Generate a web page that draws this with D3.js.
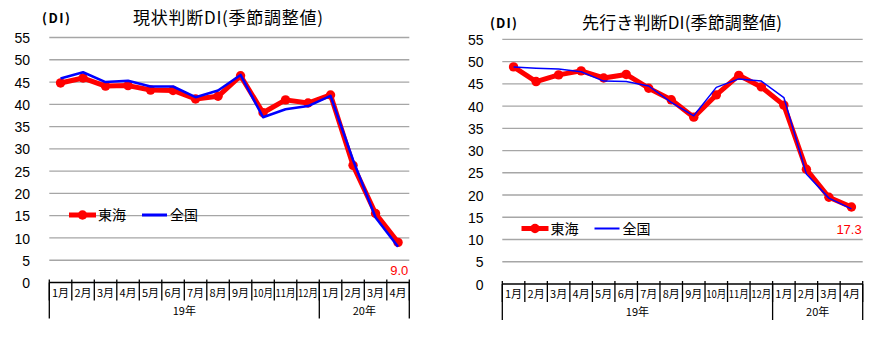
<!DOCTYPE html>
<html><head><meta charset="utf-8">
<script src="https://cdn.jsdelivr.net/npm/d3@7"></script>
<style>body{margin:0;background:#fff}svg{display:block}</style>
</head><body>
<svg id="c" width="878" height="338"></svg>
<script>
const months = ["1月","2月","3月","4月","5月","6月","7月","8月","9月","10月","11月","12月","1月","2月","3月","4月"];
const yearLabels = ["19年","20年"];
const yearSpans = [12, 4];
const yTicks = [0,5,10,15,20,25,30,35,40,45,50,55];
const seriesNames = ["東海","全国"];
const currentTokai    = [44.8,45.9,44.1,44.2,43.2,43.1,41.2,41.8,46.4,38.1,41.0,40.3,42.1,26.3,15.5,9.0];
const currentNational = [45.8,47.2,45.0,45.3,44.0,44.0,41.6,43.1,46.6,37.1,38.9,39.6,41.9,27.5,14.6,8.0];
const futureTokai     = [48.8,45.5,47.0,47.9,46.3,47.1,44.0,41.4,37.5,42.5,46.9,44.3,40.2,25.8,19.5,17.3];
const futureNational  = [48.8,48.5,48.3,47.7,45.6,45.5,44.5,40.8,37.8,44.2,46.1,45.6,41.9,24.7,19.3,16.9];
const titles = ["現状判断DI(季節調整値)","先行き判断DI(季節調整値)"];

const svg = d3.select("#c");
const JP = "'Noto Sans CJK JP', sans-serif";
const NUM = "'Liberation Sans', Arial, sans-serif";

function drawChart(o){
  const g = svg.append("g");
  const idx = d3.range(months.length);
  const x = d3.scaleBand().domain(idx).range([o.x0, o.x1]);
  const y = d3.scaleLinear().domain([0,55]).range([o.yb, o.yt]);
  const cx = i => x(i) + x.bandwidth()/2;

  g.selectAll(".grid").data(yTicks.filter(t=>t>0)).join("line")
    .attr("x1", o.x0).attr("x2", o.x1)
    .attr("y1", d=>y(d)).attr("y2", d=>y(d))
    .attr("stroke","#a6a6a6").attr("stroke-width",1.3);
  const yAxis = d3.axisLeft(y).tickValues(yTicks).tickSize(0).tickPadding(0);
  const ya = g.append("g").attr("transform",`translate(${o.ylx},0)`).call(yAxis);
  ya.select(".domain").remove();
  ya.selectAll("text").attr("font-family",NUM).attr("font-size",14).attr("fill","#000").attr("dy","0.36em");

  g.append("line").attr("x1",o.x0).attr("x2",o.x1).attr("y1",o.yb).attr("y2",o.yb)
    .attr("stroke","#000").attr("stroke-width",1.5);
  const bounds = d3.range(months.length+1).map(i => i<months.length ? x(i) : o.x1);
  g.selectAll(".sep").data(bounds).join("line")
    .attr("x1",d=>d).attr("x2",d=>d).attr("y1",o.yb-3).attr("y2",o.yb+18)
    .attr("stroke","#000").attr("stroke-width",1.3);
  let acc = 0; const ybounds=[o.x0];
  yearSpans.forEach(s=>{acc+=s; ybounds.push(acc<months.length? x(acc): o.x1);});
  g.selectAll(".ysep").data(ybounds).join("line")
    .attr("x1",d=>d).attr("x2",d=>d).attr("y1",o.yb).attr("y2",o.yb+36)
    .attr("stroke","#000").attr("stroke-width",1.3);
  g.selectAll(".ml").data(months).join("text")
    .attr("x",(d,i)=>cx(i)).attr("y",o.yb+14)
    .attr("text-anchor","middle").attr("font-family",JP).attr("font-size",11).attr("fill","#000")
    .each(function(d){ if(d.length>2){ d3.select(this).attr("textLength",20).attr("lengthAdjust","spacingAndGlyphs"); } })
    .text(d=>d);
  g.selectAll(".yl").data(yearLabels).join("text")
    .attr("x",(d,i)=>(ybounds[i]+ybounds[i+1])/2).attr("y",o.yb+32)
    .attr("text-anchor","middle").attr("font-family",JP).attr("font-size",11).attr("fill","#000")
    .text(d=>d);

  const line = d3.line().x((d,i)=>cx(i)).y(d=>y(d));
  g.append("path").datum(o.red).attr("d",line).attr("fill","none")
    .attr("stroke","#ff0000").attr("stroke-width",5).attr("stroke-linejoin","round");
  g.selectAll(".pt").data(o.red).join("circle")
    .attr("cx",(d,i)=>cx(i)).attr("cy",d=>y(d)).attr("r",4.7).attr("fill","#ff0000");
  g.append("path").datum(o.blue).attr("d",line).attr("fill","none")
    .attr("stroke","#0000ff").attr("stroke-width",o.blueW).attr("stroke-linejoin","round");

  const last = o.red[o.red.length-1];
  g.append("text").attr("x",o.x1-1).attr("y",o.lastLabelY)
    .attr("text-anchor","end").attr("font-family",NUM).attr("font-size",13).attr("fill","#ff0000")
    .text(d3.format(".1f")(last));

  g.append("text").attr("x",o.titleX).attr("y",o.titleY)
    .attr("textLength",o.titleW).attr("lengthAdjust","spacing")
    .attr("font-family",JP).attr("font-size",17).attr("fill","#000").text(o.title);
  g.append("text").attr("x",o.unitX).attr("y",o.titleY-1)
    .attr("textLength",o.unitW).attr("lengthAdjust","spacing")
    .attr("font-family",JP).attr("font-size",13).attr("font-weight","bold").attr("fill","#000").text("(DI)");

  const lg = g.append("g").attr("transform",`translate(${o.legX},${o.legY})`);
  lg.append("line").attr("x1",0).attr("x2",27).attr("y1",0).attr("y2",0).attr("stroke","#ff0000").attr("stroke-width",5);
  lg.append("circle").attr("cx",13.5).attr("cy",0).attr("r",4.7).attr("fill","#ff0000");
  lg.append("text").attr("x",29).attr("y",0).attr("dy","0.36em").attr("font-family",JP).attr("font-size",14).attr("fill","#000").text(seriesNames[0]);
  lg.append("line").attr("x1",73).attr("x2",98).attr("y1",0).attr("y2",0).attr("stroke","#0000ff").attr("stroke-width",o.legBlueW);
  lg.append("text").attr("x",101).attr("y",0).attr("dy","0.36em").attr("font-family",JP).attr("font-size",14).attr("fill","#000").text(seriesNames[1]);
}

drawChart({x0:49.3,x1:409.3,yb:282.5,yt:37.5,ylx:30,red:currentTokai,blue:currentNational,blueW:2.5,
  lastLabelY:275,title:titles[0],titleX:133,titleW:190,titleY:24,unitX:42,unitW:28,legX:69,legY:215,legBlueW:3});
drawChart({x0:502.3,x1:862.7,yb:284,yt:39.3,ylx:483.5,red:futureTokai,blue:futureNational,blueW:1.5,
  lastLabelY:234,title:titles[1],titleX:582,titleW:200,titleY:29,unitX:490,unitW:27,legX:521.5,legY:228.5,legBlueW:2});
</script>
</body></html>
